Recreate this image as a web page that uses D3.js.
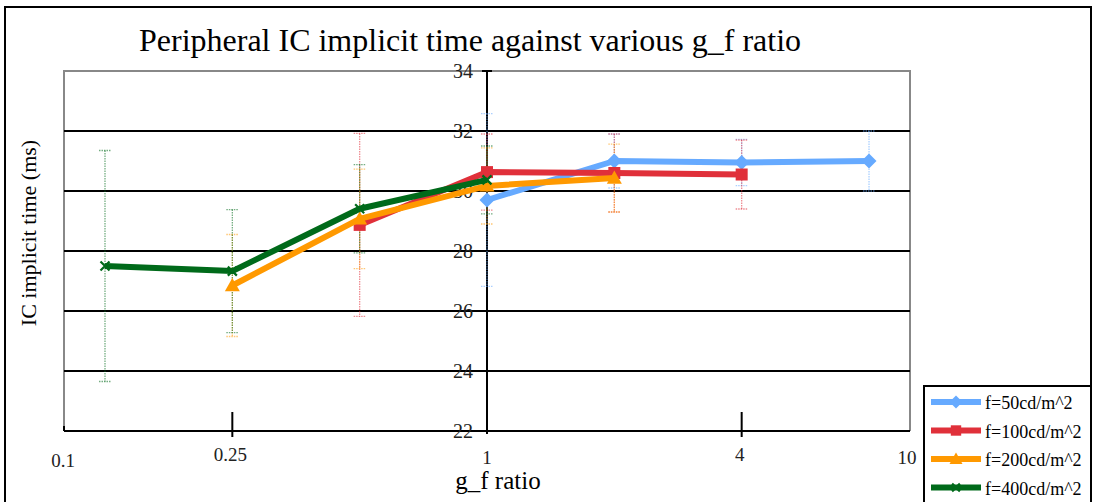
<!DOCTYPE html>
<html>
<head>
<meta charset="utf-8">
<script src="https://cdn.jsdelivr.net/npm/d3@7"></script>
<style>
  body { margin: 0; background: #fff; }
  svg { display: block; }
  text { font-family: "Liberation Serif", "DejaVu Serif", serif; fill: #000; }
</style>
</head>
<body>
<svg id="chart" width="1097" height="502"></svg>
<script>
// values
const seriesNames = ['f=50cd/m^2', 'f=100cd/m^2', 'f=200cd/m^2', 'f=400cd/m^2']
const seriesColors = ['#66aaff', '#e0303a', '#ff9900', '#006a1a']
const seriesShapes = ['diamond', 'square', 'triangle', 'cross']

const x50 = [1, 2, 4, 8]
const y50 = [29.7, 31.0, 30.95, 31.0]
const e50 = [2.88, 0.9, 0.77, 1.0]

const x100 = [0.5, 1, 2, 4]
const y100 = [28.87, 30.63, 30.6, 30.55]
const e100 = [3.05, 1.27, 1.3, 1.15]

const x200 = [0.25, 0.5, 1, 2]
const y200 = [26.85, 29.07, 30.17, 30.43]
const e200 = [1.7, 1.66, 1.27, 1.13]

const x400 = [0.125, 0.25, 0.5, 1]
const y400 = [27.5, 27.33, 29.41, 30.37]
const e400 = [3.85, 2.05, 1.47, 1.13]

const xTicks = [0.1, 0.25, 1, 4, 10]
const yTicks = [22, 24, 26, 28, 30, 32, 34]

const series = [
  { xs: x50, ys: y50, es: e50 },
  { xs: x100, ys: y100, es: e100 },
  { xs: x200, ys: y200, es: e200 },
  { xs: x400, ys: y400, es: e400 }
].map((s, i) => Object.assign(s, {
  name: seriesNames[i], color: seriesColors[i], shape: seriesShapes[i],
  points: s.xs.map((x, j) => ({ x: x, y: s.ys[j], e: s.es[j] }))
}))

const svg = d3.select('#chart')

// outer frame
svg.append('rect')
    .attr('x', 5).attr('y', 7)
    .attr('width', 1086).attr('height', 500)
    .attr('fill', 'none').attr('stroke', '#000').attr('stroke-width', 2)

const plotLeft = 64, plotRight = 910, plotTop = 71, plotBottom = 431

const x = d3.scaleLog().domain([0.1, 10]).range([plotLeft, plotRight])
const y = d3.scaleLinear().domain([22, 34]).range([plotBottom, plotTop])

// plot border (gray) on top/left/right
svg.append('path')
    .attr('d', `M${plotLeft},${plotBottom}V${plotTop}H${plotRight}V${plotBottom}`)
    .attr('fill', 'none').attr('stroke', '#888').attr('stroke-width', 2)

// horizontal gridlines
svg.append('g')
  .selectAll('line')
  .data(yTicks.filter(t => t > 22 && t < 34))
  .join('line')
    .attr('x1', plotLeft).attr('x2', plotRight)
    .attr('y1', d => y(d)).attr('y2', d => y(d))
    .attr('stroke', '#000').attr('stroke-width', 2)

// x axis line
svg.append('line')
    .attr('x1', plotLeft).attr('x2', plotRight)
    .attr('y1', plotBottom).attr('y2', plotBottom)
    .attr('stroke', '#000').attr('stroke-width', 2)

// y axis at x=1
const yAxisX = x(1)
svg.append('line')
    .attr('x1', yAxisX).attr('x2', yAxisX)
    .attr('y1', plotTop).attr('y2', plotBottom + 3)
    .attr('stroke', '#000').attr('stroke-width', 2)
svg.append('g')
  .selectAll('line')
  .data(yTicks)
  .join('line')
    .attr('x1', yAxisX - 5).attr('x2', yAxisX + 5)
    .attr('y1', d => y(d)).attr('y2', d => y(d))
    .attr('stroke', '#000').attr('stroke-width', 2)
svg.append('g')
  .selectAll('text')
  .data(yTicks)
  .join('text')
    .attr('x', yAxisX - 14)
    .attr('y', d => y(d) + 7)
    .attr('text-anchor', 'end')
    .style('font-size', '20px')
    .style('fill', '#222')
    .text(d => d)

// x ticks
const bigTick = new Set([0.25, 4])
svg.append('g')
  .selectAll('line')
  .data(xTicks.filter(t => bigTick.has(t)))
  .join('line')
    .attr('x1', d => x(d)).attr('x2', d => x(d))
    .attr('y1', plotBottom - 19).attr('y2', plotBottom + 6)
    .attr('stroke', '#000').attr('stroke-width', 2)
svg.append('line')
    .attr('x1', plotLeft).attr('x2', plotLeft)
    .attr('y1', plotBottom - 5).attr('y2', plotBottom)
    .attr('stroke', '#000').attr('stroke-width', 2)

const xLabelY = { 0.1: 467, 0.25: 461, 1: 464, 4: 461, 10: 464 }
const xLabelDx = { 0.1: -1, 0.25: -2, 1: 0, 4: -2, 10: -3 }
svg.append('g')
  .selectAll('text')
  .data(xTicks)
  .join('text')
    .attr('x', d => x(d) + xLabelDx[d])
    .attr('y', d => xLabelY[d])
    .attr('text-anchor', 'middle')
    .style('font-size', '19px')
    .style('fill', '#222')
    .text(d => d)

// error bars
const cap = 6
series.forEach(s => {
  const g = svg.append('g')
      .attr('stroke', s.color)
      .attr('stroke-opacity', 0.55)
      .attr('stroke-width', 1.3)
      .attr('stroke-dasharray', '1.5,1')
  s.points.forEach(p => {
    const cx = x(p.x)
    g.append('line')
        .attr('x1', cx).attr('x2', cx)
        .attr('y1', y(p.y + p.e)).attr('y2', y(p.y - p.e))
    g.append('line')
        .attr('x1', cx - cap).attr('x2', cx + cap)
        .attr('y1', y(p.y + p.e)).attr('y2', y(p.y + p.e))
    g.append('line')
        .attr('x1', cx - cap).attr('x2', cx + cap)
        .attr('y1', y(p.y - p.e)).attr('y2', y(p.y - p.e))
  })
})

// marker drawing
const drawMarker = (g, shape, color, cx, cy, r) => {
  let d
  if (shape === 'cross') {
    const c = r * 0.6
    g.append('path')
        .attr('d', `M${cx - c},${cy - c}L${cx + c},${cy + c}M${cx - c},${cy + c}L${cx + c},${cy - c}`)
        .attr('stroke', color).attr('stroke-width', 2.2).attr('fill', 'none')
    return
  }
  if (shape === 'diamond') d = `M${cx},${cy - r}L${cx + r},${cy}L${cx},${cy + r}L${cx - r},${cy}Z`
  if (shape === 'square') d = `M${cx - r * 0.8},${cy - r * 0.8}h${r * 1.6}v${r * 1.6}h${-r * 1.6}Z`
  if (shape === 'triangle') d = `M${cx},${cy - r}L${cx + r},${cy + r * 0.75}L${cx - r},${cy + r * 0.75}Z`
  g.append('path').attr('d', d).attr('fill', color)
}

const line = d3.line().x(d => x(d.x)).y(d => y(d.y))

series.forEach(s => {
  const g = svg.append('g')
  g.append('path')
      .attr('d', line(s.points))
      .attr('fill', 'none')
      .attr('stroke', s.color)
      .attr('stroke-width', 6)
      .attr('stroke-linejoin', 'round')
  s.points.forEach(p => drawMarker(g, s.shape, s.color, x(p.x), y(p.y), 7.5))
})

// title and axis labels
svg.append('text')
    .attr('x', 470).attr('y', 51)
    .attr('text-anchor', 'middle')
    .style('font-size', '32px')
    .text('Peripheral IC implicit time against various g_f ratio')

svg.append('text')
    .attr('x', 498).attr('y', 489)
    .attr('text-anchor', 'middle')
    .style('font-size', '25px')
    .text('g_f ratio')

svg.append('text')
    .attr('transform', 'translate(36,233) rotate(-90)')
    .attr('text-anchor', 'middle')
    .style('font-size', '22px')
    .text('IC implicit time (ms)')

// legend
const legend = svg.append('g')
legend.append('rect')
    .attr('x', 924).attr('y', 386)
    .attr('width', 167).attr('height', 130)
    .attr('fill', '#fff').attr('stroke', '#000').attr('stroke-width', 2)
series.forEach((s, i) => {
  const ly = 402 + i * 28.5
  legend.append('line')
      .attr('x1', 931).attr('x2', 981)
      .attr('y1', ly).attr('y2', ly)
      .attr('stroke', s.color).attr('stroke-width', 6)
  drawMarker(legend, s.shape, s.color, 956, ly, 6.5)
  legend.append('text')
      .attr('x', 985).attr('y', ly + 7)
      .style('font-size', '18px')
      .text(s.name)
})
</script>
</body>
</html>
